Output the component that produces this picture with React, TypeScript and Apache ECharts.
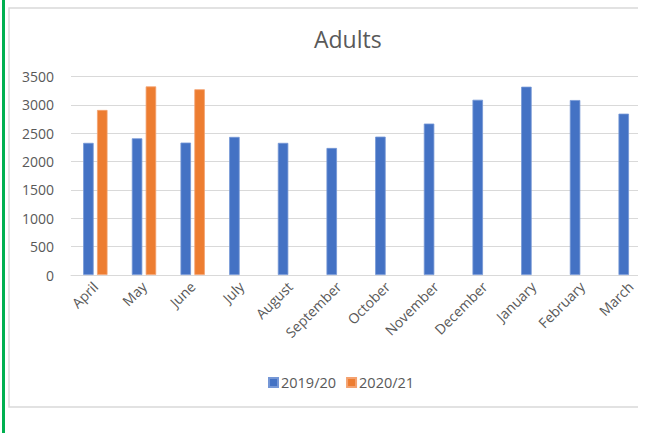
import React, { useEffect, useRef } from "react";
import * as echarts from "echarts";

const months = [
  "April", "May", "June", "July", "August", "September",
  "October", "November", "December", "January", "February", "March",
];
const adults2019 = [2330, 2410, 2335, 2435, 2330, 2240, 2440, 2670, 3090, 3320, 3085, 2845];
const adults2020 = [2910, 3325, 3275, null, null, null, null, null, null, null, null, null];
const yTicks = { min: 0, max: 3500, interval: 500 };

const TEXT = "#595959";
const FONT = "'Open Sans', 'Noto Sans', sans-serif";

export default function App() {
  const ref = useRef<HTMLDivElement>(null);

  useEffect(() => {
    document.body.style.margin = "0";
    if (!ref.current) return;
    const chart = echarts.init(ref.current, null, { renderer: "svg" });
    chart.setOption({
      animation: false,
      backgroundColor: "#ffffff",
      textStyle: { fontFamily: FONT, color: TEXT },
      title: {
        text: "Adults",
        left: 309,
        top: 22,
        textStyle: { fontFamily: FONT, fontSize: 23, fontWeight: "normal", color: TEXT },
      },
      grid: { left: 71, right: 6, top: 76.5, bottom: 158, containLabel: false },
      legend: {
        left: 263,
        top: 370,
        itemWidth: 9,
        itemHeight: 9,
        itemGap: 10,
        icon: "rect",
        textStyle: { fontFamily: FONT, fontSize: 14.5, color: TEXT, padding: [0, 0, 0, -2] },
        data: ["2019/20", "2020/21"],
      },
      xAxis: {
        type: "category",
        data: months,
        axisLine: { lineStyle: { color: "#d9d9d9", width: 1 } },
        axisTick: { show: false },
        axisLabel: {
          rotate: 45,
          interval: 0,
          margin: 9,
          fontFamily: FONT,
          fontSize: 14,
          color: TEXT,
        },
      },
      yAxis: {
        type: "value",
        min: yTicks.min,
        max: yTicks.max,
        interval: yTicks.interval,
        axisLine: { show: false },
        axisTick: { show: false },
        splitLine: { lineStyle: { color: "#d9d9d9", width: 1 } },
        axisLabel: {
          margin: 17,
          fontFamily: FONT,
          fontSize: 14,
          color: TEXT,
          formatter: (v: number) => String(v),
        },
      },
      series: [
        {
          name: "2019/20",
          type: "bar",
          data: adults2019,
          barWidth: 10.5,
          barGap: "32%",
          itemStyle: { color: "#4472c4", borderColor: "#7597d6", borderWidth: 0.8 },
        },
        {
          name: "2020/21",
          type: "bar",
          data: adults2020,
          barWidth: 10.5,
          itemStyle: { color: "#ed7d31", borderColor: "#f4a270", borderWidth: 0.8 },
        },
      ],
      graphic: [
        {
          type: "rect",
          z: 100,
          shape: { x: 9, y: 8, width: 700, height: 399 },
          style: { fill: "none", stroke: "#d9d9d9", lineWidth: 1.5 },
        },
        {
          type: "rect",
          z: 101,
          shape: { x: 638, y: 0, width: 30, height: 433 },
          style: { fill: "#ffffff" },
        },
        {
          type: "rect",
          z: 102,
          shape: { x: 2, y: 0, width: 3, height: 433 },
          style: { fill: "#00b050" },
        },
      ],
    });
    return () => chart.dispose();
  }, []);

  return (
    <div
      ref={ref}
      style={{ position: "absolute", left: 0, top: 0, width: 661, height: 433 }}
    />
  );
}
